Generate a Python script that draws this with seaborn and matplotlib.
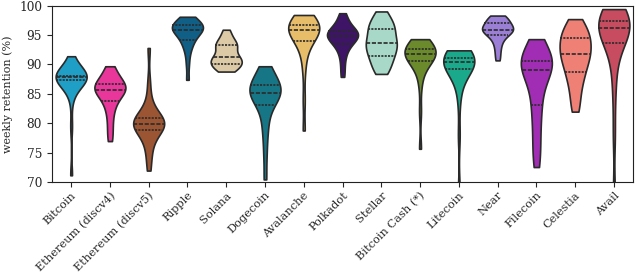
import numpy as np
import pandas as pd
import matplotlib
matplotlib.use("Agg")
import matplotlib.pyplot as plt
import seaborn as sns

chains = ["Bitcoin", "Ethereum (discv4)", "Ethereum (discv5)", "Ripple", "Solana",
          "Dogecoin", "Avalanche", "Polkadot", "Stellar", "Bitcoin Cash (*)",
          "Litecoin", "Near", "Filecoin", "Celestia", "Avail"]

colors = ["#1f9fc6", "#e8369b", "#9b5532", "#0f5f86", "#dccaa6", "#177686",
          "#e8bd69", "#3e1467", "#a8d9c8", "#6a8a2b", "#1aa98b", "#9b7fd7",
          "#a22db5", "#ee8076", "#c74c5f"]

bitcoin = [71.2, 79.5, 84.2, 85.6, 86.5, 87.2, 87.5, 87.6, 87.7, 87.7, 87.8, 87.8,
           87.8, 87.9, 87.9, 88.0, 88.0, 88.1, 88.2, 88.5, 89.0, 89.6, 90.3, 91.4]
eth_discv4 = [77.0, 78.5, 80.0, 81.5, 82.5, 83.4, 83.9, 84.5, 85.0, 85.3, 85.5, 85.6,
              85.8, 86.0, 86.2, 86.4, 86.6, 86.7, 87.0, 87.4, 87.9, 88.5, 89.1, 89.7]
eth_discv5 = [72.0, 74.0, 75.5, 76.8, 77.6, 78.4, 79.0, 79.3, 79.5, 79.7, 79.8, 79.9,
              79.9, 80.1, 80.3, 80.5, 80.7, 80.8, 81.2, 81.8, 82.8, 84.2, 87.0, 92.8]
ripple = [87.4, 90.0, 91.8, 92.8, 93.5, 94.0, 94.3, 94.8, 95.2, 95.5, 95.7, 95.8,
          96.0, 96.1, 96.3, 96.4, 96.5, 96.6, 96.8, 97.0, 97.3, 97.6, 97.9, 98.1]
solana = [88.8, 89.0, 89.3, 89.6, 89.8, 90.0, 90.2, 90.4, 90.6, 90.8, 91.0, 91.2,
          91.4, 91.7, 92.2, 92.7, 93.0, 93.2, 93.4, 93.7, 94.0, 94.5, 95.2, 95.9]
dogecoin = [70.5, 74.5, 77.5, 79.5, 81.0, 82.5, 83.4, 83.9, 84.4, 84.8, 85.0, 85.1,
            85.3, 85.5, 85.8, 86.0, 86.3, 86.5, 86.9, 87.4, 88.0, 88.6, 89.2, 89.7]
avalanche = [78.8, 84.0, 89.0, 91.5, 92.8, 93.6, 94.2, 94.8, 95.2, 95.5, 95.7, 95.8,
             96.0, 96.1, 96.2, 96.3, 96.5, 96.6, 96.8, 97.1, 97.5, 97.8, 98.1, 98.4]
polkadot = [87.9, 89.5, 91.0, 92.0, 92.7, 93.3, 93.6, 93.9, 94.2, 94.4, 94.6, 94.8,
            95.0, 95.1, 95.3, 95.4, 95.6, 95.7, 95.9, 96.3, 96.8, 97.3, 98.0, 98.7]
stellar = [88.4, 89.0, 89.6, 90.2, 90.8, 91.3, 91.6, 92.0, 92.5, 92.9, 93.3, 93.5,
           93.7, 94.1, 94.6, 95.1, 95.6, 95.9, 96.3, 96.7, 97.1, 97.6, 98.3, 99.0]
bitcoin_cash = [75.7, 82.0, 86.5, 88.5, 89.6, 90.3, 90.7, 91.0, 91.2, 91.4, 91.6, 91.7,
                91.9, 92.0, 92.2, 92.3, 92.5, 92.6, 92.8, 93.1, 93.4, 93.7, 94.0, 94.3]
litecoin = [68.5, 78.0, 84.0, 86.5, 87.8, 88.8, 89.3, 89.6, 89.9, 90.1, 90.3, 90.4,
            90.4, 90.6, 90.7, 90.8, 90.9, 91.0, 91.2, 91.4, 91.7, 91.9, 92.2, 92.4]
near = [90.7, 91.8, 92.8, 93.6, 94.2, 94.7, 95.0, 95.3, 95.5, 95.7, 95.8, 95.9,
        95.9, 96.1, 96.3, 96.5, 96.7, 96.9, 97.2, 97.5, 97.7, 97.9, 98.1, 98.3]
filecoin = [72.6, 74.5, 76.5, 78.5, 80.5, 82.3, 83.4, 85.0, 86.5, 87.5, 88.2, 88.8,
            89.4, 89.8, 90.1, 90.3, 90.5, 90.6, 90.9, 91.4, 92.0, 92.7, 93.5, 94.3]
celestia = [82.0, 83.5, 85.0, 86.3, 87.3, 88.2, 88.8, 89.5, 90.2, 90.8, 91.3, 91.7,
            91.9, 92.4, 93.0, 93.5, 94.0, 94.4, 94.8, 95.2, 95.7, 96.3, 97.0, 97.7]
avail = [68.0, 78.0, 84.5, 88.5, 91.0, 92.8, 93.9, 94.6, 95.2, 95.7, 96.0, 96.1,
         96.3, 96.5, 96.7, 96.9, 97.1, 97.3, 97.6, 97.9, 98.3, 98.7, 99.1, 99.4]

series = [bitcoin, eth_discv4, eth_discv5, ripple, solana, dogecoin, avalanche,
          polkadot, stellar, bitcoin_cash, litecoin, near, filecoin, celestia, avail]

df = pd.DataFrame({
    "chain": np.repeat(chains, [len(s) for s in series]),
    "retention": np.concatenate(series),
})

sns.set_style("ticks")
plt.rcParams["font.family"] = ["DejaVu Serif"]

fig = plt.figure(figsize=(6.39, 2.78), dpi=100)
ax = fig.add_axes([0.081, 0.344, 0.910, 0.636])

sns.violinplot(data=df, x="chain", y="retention", hue="chain", order=chains,
               hue_order=chains, palette=colors, saturation=1, cut=0,
               inner="quart", density_norm="width", linewidth=1.2, bw_adjust=0.8,
               linecolor="#2a2a2a", legend=False, ax=ax)

ax.set_ylim(70, 100)
ax.set_yticks([70, 75, 80, 85, 90, 95, 100])
ax.set_xlabel("")
ax.set_ylabel("weekly retention (%)", fontsize=8, labelpad=4)
ax.tick_params(axis="y", labelsize=8.7)
ax.tick_params(axis="x", labelsize=8.2, pad=2)
for lab in ax.get_xticklabels():
    lab.set_rotation(45)
    lab.set_ha("right")
    lab.set_rotation_mode("anchor")
for sp in ax.spines.values():
    sp.set_visible(True)
    sp.set_color("#222222")

fig.savefig("out.png", dpi=100)
